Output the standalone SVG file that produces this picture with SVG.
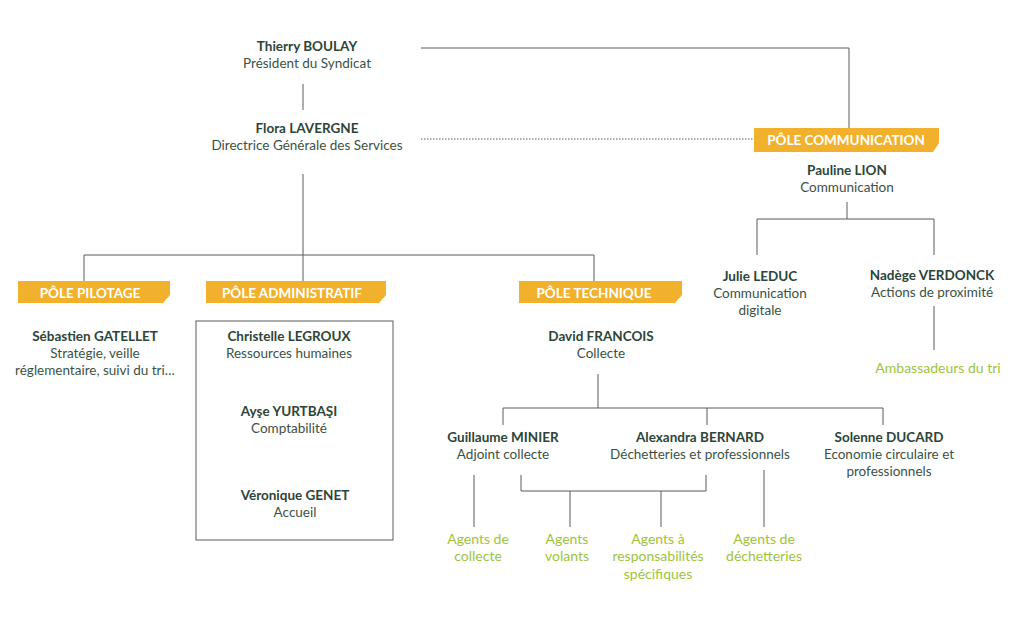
<svg xmlns="http://www.w3.org/2000/svg" width="1024" height="617" viewBox="0 0 1024 617">
<style>
text{font-family:"Lato","Liberation Sans",sans-serif;font-size:13.5px;text-anchor:middle;fill:#3a5245}
.b{font-weight:bold;fill:#2c4538}
.g{fill:#9dc43c;font-size:14px}
.p{fill:#fff;font-weight:bold;font-size:13.5px}
.ban{fill:#f2b12c}
.l{stroke:#5a5a5a;stroke-width:1;fill:none}
</style>
<rect width="1024" height="617" fill="#fff"/>
<g id="connectors">
<path class="l" d="M421 48H849V128M303 84V110M303 174V255M84 255H594M84 255V281M303 255V281M594 255V281M847 202V219M757 219H934M757 219V255M934 219V255M934 306V350M598 374V408M503 408H883M503 408V425M707 408V425M883 408V425M474 475V527M521 475V491H706V475M570 491V527M661 491V527M764 470V527"/>
<path d="M421 139H754" stroke="#5a5a5a" stroke-dasharray="1.5 1.5" fill="none"/>
<rect class="l" x="196" y="321" width="197" height="219"/>
</g>
<g id="president"><text class="b" x="307" y="51">Thierry BOULAY</text><text x="307" y="68">Président du Syndicat</text></g>
<g id="dgs"><text class="b" x="307" y="133">Flora LAVERGNE</text><text x="307" y="150">Directrice Générale des Services</text></g>
<g id="pole-com"><path class="ban" d="M754 128H939V143L933 152H754Z"/><text class="p" x="846" y="145">PÔLE COMMUNICATION</text></g>
<g id="lion"><text class="b" x="847" y="175">Pauline LION</text><text x="847" y="192">Communication</text></g>
<g id="leduc"><text class="b" x="760" y="281">Julie LEDUC</text><text x="760" y="298">Communication</text><text x="760" y="315">digitale</text></g>
<g id="verdonck"><text class="b" x="932" y="280">Nadège VERDONCK</text><text x="932" y="297">Actions de proximité</text></g>
<g id="ambassadeurs"><text class="g" x="938" y="373">Ambassadeurs du tri</text></g>
<g id="pole-pilotage"><path class="ban" d="M18 281H170V295L163 303H18Z"/><text class="p" x="90" y="298">PÔLE PILOTAGE</text></g>
<g id="pole-admin"><path class="ban" d="M206 281H386V295L379 303H206Z"/><text class="p" x="292" y="298">PÔLE ADMINISTRATIF</text></g>
<g id="pole-tech"><path class="ban" d="M519 281H682V295L675 303H519Z"/><text class="p" x="594" y="298">PÔLE TECHNIQUE</text></g>
<g id="gatellet"><text class="b" x="95" y="341">Sébastien GATELLET</text><text x="95" y="358">Stratégie, veille</text><text x="95" y="375">réglementaire, suivi du tri…</text></g>
<g id="legroux"><text class="b" x="289" y="341">Christelle LEGROUX</text><text x="289" y="358">Ressources humaines</text></g>
<g id="yurtbasi"><text class="b" x="289" y="416">Ayşe YURTBAŞI</text><text x="289" y="433">Comptabilité</text></g>
<g id="genet"><text class="b" x="295" y="500">Véronique GENET</text><text x="295" y="517">Accueil</text></g>
<g id="francois"><text class="b" x="601" y="341">David FRANCOIS</text><text x="601" y="358">Collecte</text></g>
<g id="minier"><text class="b" x="503" y="442">Guillaume MINIER</text><text x="503" y="459">Adjoint collecte</text></g>
<g id="bernard"><text class="b" x="700" y="442">Alexandra BERNARD</text><text x="700" y="459">Déchetteries et professionnels</text></g>
<g id="ducard"><text class="b" x="889" y="442">Solenne DUCARD</text><text x="889" y="459">Economie circulaire et</text><text x="889" y="476">professionnels</text></g>
<g id="agents-collecte"><text class="g" x="478" y="544">Agents de</text><text class="g" x="478" y="561">collecte</text></g>
<g id="agents-volants"><text class="g" x="567" y="544">Agents</text><text class="g" x="567" y="561">volants</text></g>
<g id="agents-resp"><text class="g" x="658" y="544">Agents à</text><text class="g" x="658" y="561">responsabilités</text><text class="g" x="658" y="579">spécifiques</text></g>
<g id="agents-dech"><text class="g" x="764" y="544">Agents de</text><text class="g" x="764" y="561">déchetteries</text></g>
</svg>
